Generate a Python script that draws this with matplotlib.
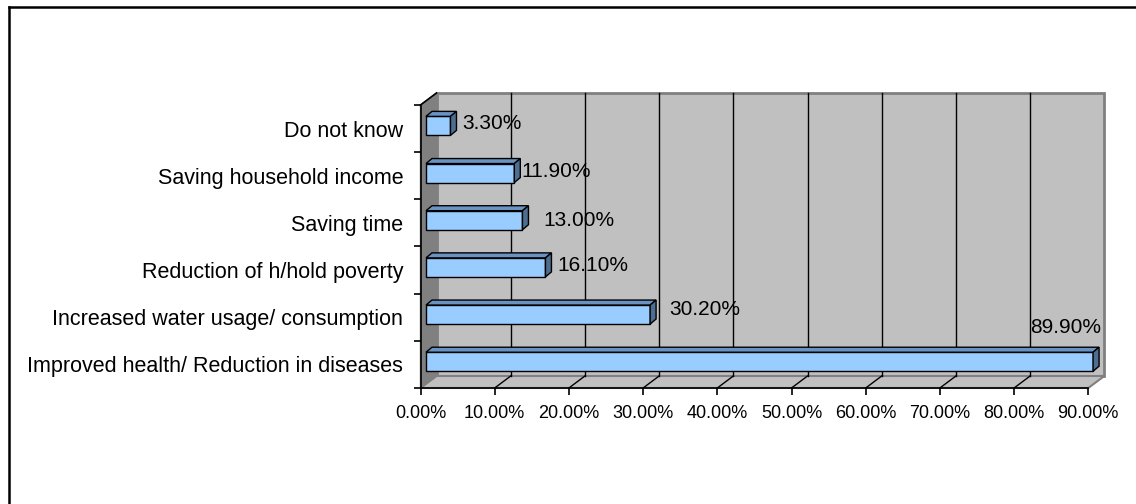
import matplotlib.pyplot as plt
from matplotlib.patches import Polygon
from matplotlib.lines import Line2D
import numpy as np

plt.rcParams['font.family'] = ['Liberation Sans', 'DejaVu Sans']

# data (bottom to top)
categories = ['Improved health/ Reduction in diseases',
              'Increased water usage/ consumption',
              'Reduction of h/hold poverty',
              'Saving time',
              'Saving household income',
              'Do not know']
values = [0.899, 0.302, 0.161, 0.130, 0.119, 0.033]
value_labels = ['89.90%', '30.20%', '16.10%', '13.00%', '11.90%', '3.30%']
tick_values = [0.0, 0.1, 0.2, 0.3, 0.4, 0.5, 0.6, 0.7, 0.8, 0.9]
tick_labels = ['0.00%', '10.00%', '20.00%', '30.00%', '40.00%',
               '50.00%', '60.00%', '70.00%', '80.00%', '90.00%']

# label offsets in pixels from the front end of each bar
label_offsets = [(-63, 34), (19, 5), (12, 1.5), (21, 0), (7, 2), (12, 2.5)]

W, H = 1136, 504
fig = plt.figure(figsize=(W / 100, H / 100), dpi=100)
# axes = front plane of the 3d box
ax = fig.add_axes([420.5 / W, 116 / H, 667.8 / W, 283 / H])
ax.set_xlim(0, 0.9)
ax.set_ylim(-0.5, 5.5)
ax.patch.set_visible(False)

px_x = 667.8 / 0.9
px_y = 283 / 6.0
WX, WY = 16 / px_x, 12 / px_y      # wall depth
FX, FY = 5.5 / px_x, 2.7 / px_y    # bar front face offset
BX, BY = 6 / px_x, 5 / px_y        # bar depth
bh = 19 / px_y
xmax = tick_values[-1]

wall = '#C0C0C0'
edge = '#808080'

# back wall
ax.add_patch(Polygon([(WX, -0.5 + WY), (WX, 5.5 + WY), (xmax + WX, 5.5 + WY), (xmax + WX, -0.5 + WY)],
                     closed=True, fc=wall, ec=edge, lw=2, zorder=0, clip_on=False))
# floor
ax.add_patch(Polygon([(0, -0.5), (WX, -0.5 + WY), (xmax + WX, -0.5 + WY), (xmax, -0.5)],
                     closed=True, fc=wall, ec=edge, lw=1.5, zorder=0.5, clip_on=False))
# left wall
ax.add_patch(Polygon([(0, -0.5), (WX, -0.5 + WY), (WX, 5.5 + WY), (0, 5.5)],
                     closed=True, fc='#808080', ec=edge, lw=1, zorder=0.6, clip_on=False))
ax.add_line(Line2D([0, WX], [5.5, 5.5 + WY], color='black', lw=1.2, zorder=4, clip_on=False))

# gridlines on back wall and floor
for v in tick_values[1:-1]:
    ax.add_line(Line2D([v + WX, v + WX], [-0.5 + WY, 5.5 + WY], color='black', lw=1, zorder=1, clip_on=False))
for v in tick_values[1:-1]:
    ax.add_line(Line2D([v, v + WX], [-0.5, -0.5 + WY], color='black', lw=1, zorder=1, clip_on=False))

# bars
y = np.arange(len(categories)) + FY
bars = ax.barh(y, values, height=bh, left=FX, color='#99CCFF', edgecolor='black', linewidth=1, zorder=3)
for b in bars:
    b.set_clip_on(False)
for yi, v in zip(y, values):
    top = yi + bh / 2
    bot = yi - bh / 2
    r = FX + v
    ax.add_patch(Polygon([(FX, top), (FX + BX, top + BY), (r + BX, top + BY), (r, top)],
                         closed=True, fc='#6A93C4', ec='black', lw=1, zorder=3, clip_on=False))
    ax.add_patch(Polygon([(r, bot), (r, top), (r + BX, top + BY), (r + BX, bot + BY)],
                         closed=True, fc='#4D6E91', ec='black', lw=1, zorder=3, clip_on=False))

for yi, v, lab, off in zip(y, values, value_labels, label_offsets):
    ax.annotate(lab, xy=(FX + v, yi), xytext=off, textcoords='offset pixels',
                ha='left', va='center', fontsize=15, color='black', zorder=5,
                annotation_clip=False)

# axes
for s in ['top', 'right']:
    ax.spines[s].set_visible(False)
for s in ['left', 'bottom']:
    ax.spines[s].set_color('black')
    ax.spines[s].set_linewidth(1.2)
    ax.spines[s].set_zorder(4)
ax.set_xticks(tick_values, tick_labels)
ax.tick_params(axis='x', length=5, width=1.2, pad=7, labelsize=13)
ax.set_yticks(np.arange(len(categories)), categories)
ax.set_yticks(np.arange(-0.5, 6.0, 1.0), minor=True)
ax.tick_params(axis='y', which='major', length=0, pad=12.5, labelsize=15.5)
ax.tick_params(axis='y', which='minor', length=5, width=1.2)

# outer frame (left and top edges)
fig.add_artist(Line2D([8.5 / W, 8.5 / W], [0, 1 - 6.5 / H], color='black', lw=1.8, transform=fig.transFigure))
fig.add_artist(Line2D([8.5 / W, 1], [1 - 6.5 / H, 1 - 6.5 / H], color='black', lw=1.8, transform=fig.transFigure))

fig.savefig('out.png', dpi=100)
